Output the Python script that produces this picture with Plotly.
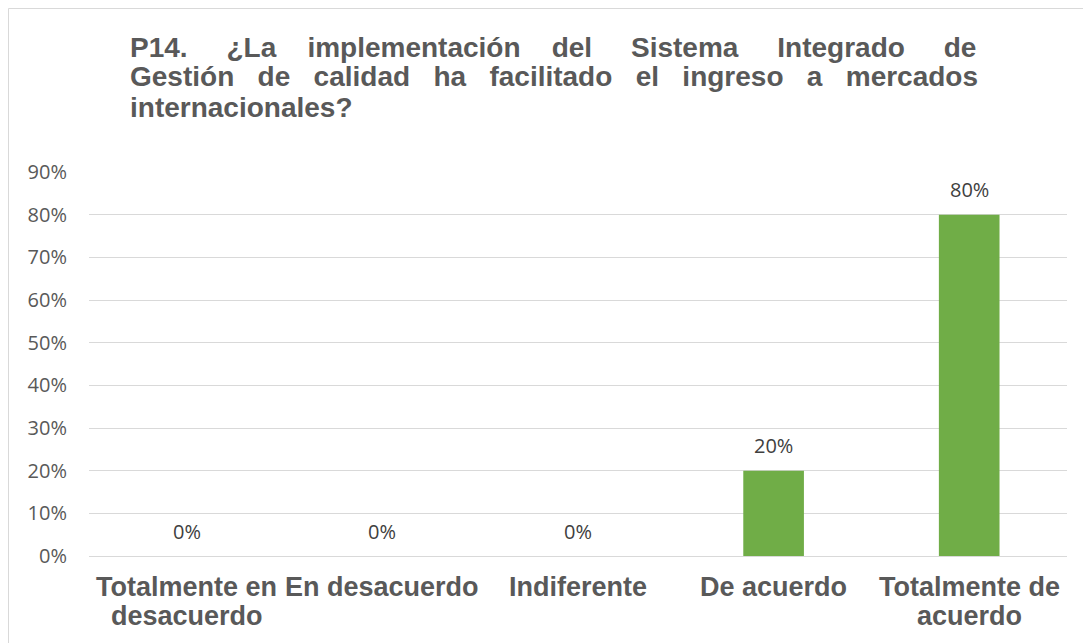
import plotly.graph_objects as go

# Data
categories = ["Totalmente en desacuerdo", "En desacuerdo", "Indiferente",
              "De acuerdo", "Totalmente de acuerdo"]
tick_labels = ["Totalmente en<br>desacuerdo", "En desacuerdo", "Indiferente",
               "De acuerdo", "Totalmente de<br>acuerdo"]
values = [0.0, 0.0, 0.0, 0.20, 0.80]
value_labels = ["0%", "0%", "0%", "20%", "80%"]

title_lines = [
    "P14. ¿La implementación del Sistema Integrado de",
    "Gestión de calidad ha facilitado el ingreso a mercados",
    "internacionales?",
]
# extra non-breaking spaces per word gap, to fake the justified title
title_gaps = [[4, 3, 3, 4, 4, 4], [2] * 8, []]

# the page puts the figure at (8, 8); sizes below are in figure pixels
W, H = 1083, 635
L, R, T, B = 81, 24, 164, 87
plot_w = W - L - R
plot_h = H - T - B


def px_x(p):
    return (p - L) / plot_w


def px_y(p):
    return (H - B - p) / plot_h


fig = go.Figure()
fig.add_trace(go.Bar(
    x=categories, y=values,
    marker=dict(color="#70AD47", line=dict(width=0)),
    hoverinfo="skip",
))

# data labels above bars
for c, v, t in zip(categories, values, value_labels):
    fig.add_annotation(x=c, y=v, text=t, showarrow=False, yshift=25,
                       yanchor="middle",
                       font=dict(family="Open Sans", size=20, color="#404040"))

# category labels, one annotation per line for the tight line spacing
for c, lab in zip(categories, tick_labels):
    for i, part in enumerate(lab.split("<br>")):
        fig.add_annotation(x=c, xref="x", yref="paper", y=px_y(579 + 29 * i),
                           text=part, showarrow=False, yanchor="middle",
                           xanchor="center",
                           font=dict(family="Liberation Sans, Arial", size=27,
                                     color="#595959", weight="bold"))

# title, one annotation per line
title_y = [39, 68.5, 99]
for line, gaps, yy in zip(title_lines, title_gaps, title_y):
    words = line.split(" ")
    text = words[0]
    for w, g in zip(words[1:], gaps):
        text += " " + "\u00a0" * g + w
    fig.add_annotation(xref="paper", yref="paper", x=px_x(120), y=px_y(yy),
                       xanchor="left", yanchor="middle", showarrow=False,
                       text=text,
                       font=dict(family="Liberation Sans, Arial", size=28,
                                 color="#595959", weight="bold"))

# chart border
fig.add_shape(type="rect", xref="paper", yref="paper",
              x0=px_x(0.5), x1=px_x(1300), y0=px_y(900), y1=px_y(0.5),
              line=dict(color="#D9D9D9", width=1), fillcolor="rgba(0,0,0,0)",
              layer="below")

fig.update_layout(
    width=W, height=H,
    margin=dict(l=L, r=R, t=T, b=B),
    paper_bgcolor="white", plot_bgcolor="white",
    bargap=0.69,
    showlegend=False,
)
fig.update_xaxes(
    tickmode="array", tickvals=categories, showticklabels=False,
    showgrid=False, showline=False, ticks="",
)
fig.update_yaxes(
    range=[0, 0.9], dtick=0.1, tickformat=".0%",
    tickfont=dict(family="Open Sans", size=20, color="#595959"),
    gridcolor="#D9D9D9", gridwidth=1,
    zeroline=True, zerolinecolor="#D9D9D9", zerolinewidth=1,
    showline=False, ticks="", ticklabelstandoff=21,
)

fig.write_html("out.html")
